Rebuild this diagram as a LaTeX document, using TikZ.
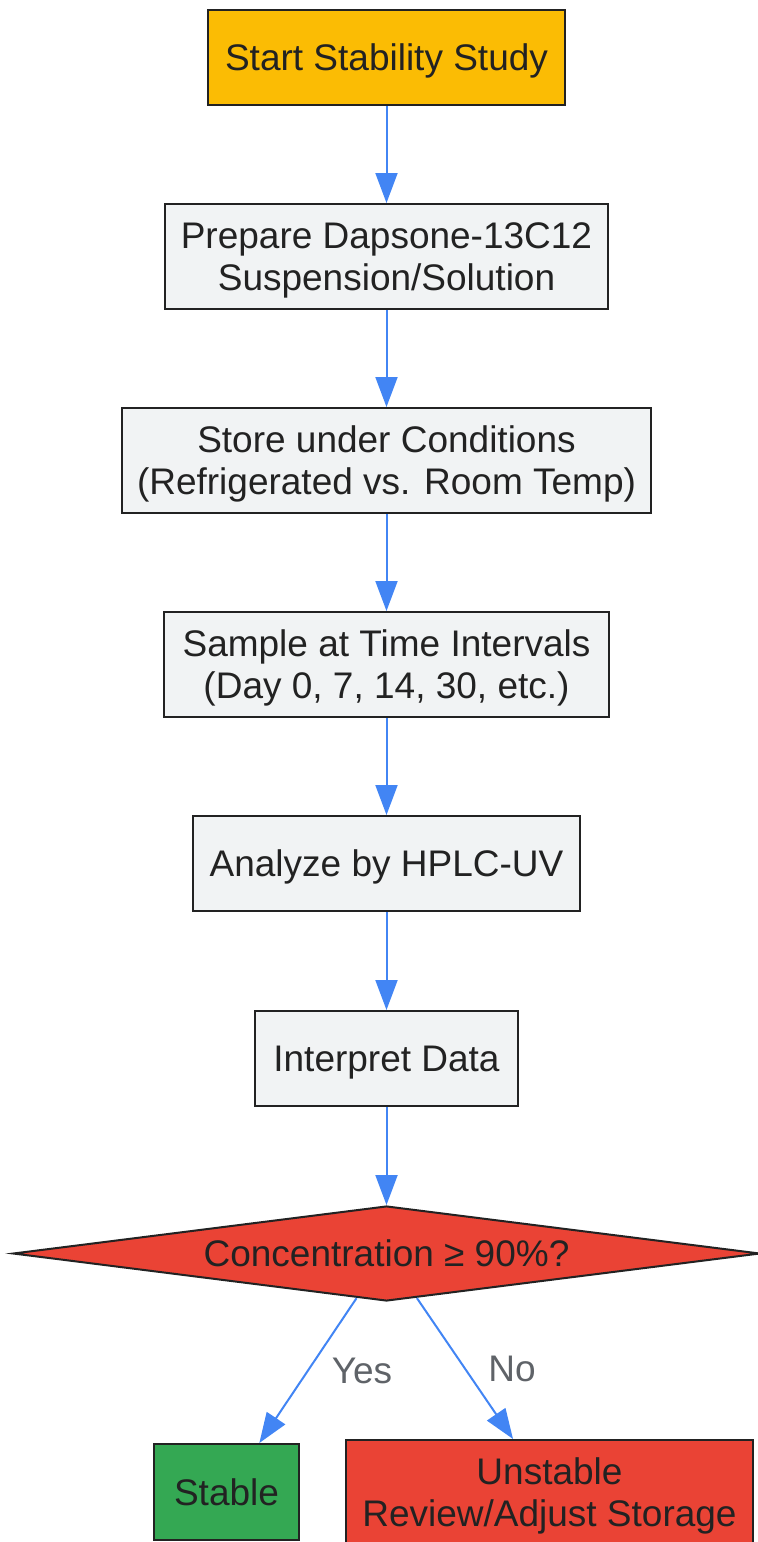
\documentclass[tikz,border=0pt]{standalone}
\usepackage{fontspec}
\setmainfont{Liberation Sans}
\usetikzlibrary{arrows.meta, positioning, shapes.geometric}

\definecolor{startyellow}{HTML}{FBBC04}
\definecolor{stepgray}{HTML}{F1F3F4}
\definecolor{flowblue}{HTML}{4285F4}
\definecolor{alertred}{HTML}{EA4335}
\definecolor{okgreen}{HTML}{34A853}
\definecolor{inkdark}{HTML}{222222}
\definecolor{labelgray}{HTML}{5F6368}

\begin{document}
\begin{tikzpicture}[x=0.5pt, y=-0.5pt,
  box/.style={draw=inkdark, line width=1pt, fill=stepgray, text=inkdark, align=center,
    font=\fontsize{18.5pt}{21pt}\selectfont, inner xsep=0pt, inner ysep=3pt, text depth=0pt,
    minimum height=47.5pt},
  twoline/.style={minimum height=52.5pt},
  decision/.style={diamond, draw=inkdark, line width=1pt, fill=alertred, text=inkdark,
    font=\fontsize{18.5pt}{21pt}\selectfont, inner sep=0pt, aspect=7.9, text depth=0pt,
    minimum width=373.5pt, minimum height=47.5pt},
  flow/.style={draw=flowblue, line width=1pt, -{Triangle[length=15pt, width=11pt]}},
  elabel/.style={font=\fontsize{18.5pt}{21pt}\selectfont, text=labelgray, text depth=0pt}
]
  \useasboundingbox (0,0) rectangle (757,1542);

  % Steps
  \node[box, fill=startyellow, minimum width=178.5pt] (start) at (386.5, 57.5) {Start Stability Study};
  \node[box, twoline, minimum width=221.5pt] (prep) at (386.5, 256.5) {Prepare Dapsone-13C12\\Suspension/Solution};
  \node[box, twoline, minimum width=264.5pt] (store) at (386.5, 460.5) {Store under Conditions\\(Refrigerated vs. Room Temp)};
  \node[box, twoline, minimum width=222.5pt] (sample) at (386.5, 664.5) {Sample at Time Intervals\\(Day 0, 7, 14, 30, etc.)};
  \node[box, minimum width=193.5pt] (hplc) at (386.5, 863.5) {Analyze by HPLC-UV};
  \node[box, minimum width=131.5pt] (interp) at (386.5, 1058.5) {Interpret Data};

  % Decision
  \node[decision] (dec) at (386.5, 1253.5) {Concentration ≥ 90\%?};

  % Outcomes
  \node[box, fill=okgreen, minimum width=72.5pt, minimum height=48pt] (stable) at (226.5, 1492) {Stable};
  \node[box, twoline, fill=alertred, minimum width=203.5pt] (unstable) at (549.5, 1492.5) {Unstable\\Review/Adjust Storage};

  \draw[flow] (start) -- (prep);
  \draw[flow] (prep) -- (store);
  \draw[flow] (store) -- (sample);
  \draw[flow] (sample) -- (hplc);
  \draw[flow] (hplc) -- (interp);
  \draw[flow] (interp) -- (dec);
  \draw[flow] (dec) -- node[elabel, xshift=27pt] {Yes} (stable);
  \draw[flow] (dec) -- node[elabel, xshift=23.5pt] {No} (unstable);
\end{tikzpicture}
\end{document}
